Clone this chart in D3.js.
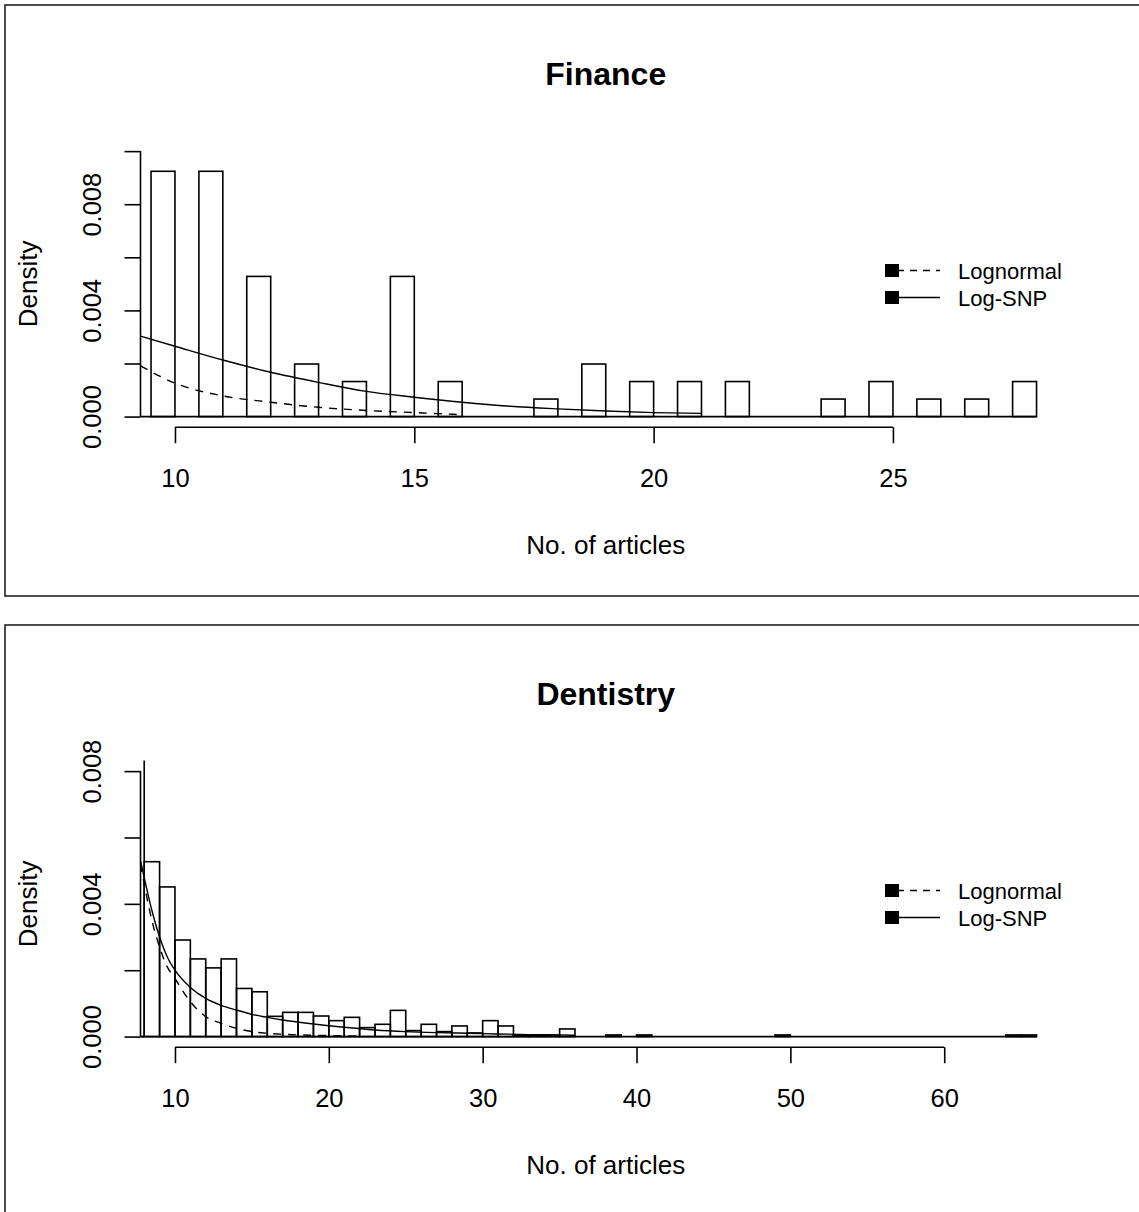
<!DOCTYPE html>
<html lang="en">
<head>
    <meta charset="UTF-8">
    <title>Finance / Dentistry densities</title>
    <script src="https://d3js.org/d3.v7.min.js"></script>
    <style>
        body {
            margin: 0;
            background: #fff;
            font-family: "Liberation Sans", Arial, sans-serif;
        }
        svg {
            display: block;
        }
        .axis text {
            font-family: "Liberation Sans", Arial, sans-serif;
            fill: #000;
        }
    </style>
</head>
<body>
<div id="container"></div>
<script>

    // ---- data ----

    // Finance: bars sit on bins (k-0.5, k]
    const financeArticles = [10, 11, 12, 13, 14, 15, 16, 17, 18, 19, 20, 21, 22, 23, 24, 25, 26, 27, 28];
    const financeDensity  = [0.00924, 0.00924, 0.00528, 0.00198, 0.00132, 0.00528, 0.00132, 0, 0.00066, 0.00198,
                             0.00132, 0.00132, 0.00132, 0, 0.00066, 0.00132, 0.00066, 0.00066, 0.00132];
    const financeSnpX  = [9.28, 10, 11, 12, 13, 14, 15, 16, 17, 18, 19, 20, 21];
    const financeSnpY  = [0.00303, 0.00265, 0.00213, 0.00167, 0.00129, 0.00095, 0.00073, 0.00054, 0.00039, 0.00029, 0.00021, 0.00015, 0.00012];
    const financeLogX  = [9.28, 10, 11, 12, 13, 14, 15, 16];
    const financeLogY  = [0.00191, 0.00126, 0.00078, 0.00054, 0.00035, 0.00023, 0.00015, 0.00007];
    const financeXLim  = [10, 28];
    const financeXTicks = [10, 15, 20, 25];
    const financeYMax  = 0.010;
    const financeYTicks = [0, 0.002, 0.004, 0.006, 0.008, 0.010];

    // Dentistry: bars sit on bins [k, k+1]
    const dentFrom    = [7, 8, 9, 10, 11, 12, 13, 14, 15, 16, 17, 18, 19, 20, 21, 22, 23, 24, 25, 26, 27, 28, 29, 30,
                         31, 32, 33, 34, 35, 38, 40, 49, 64, 65];
    const dentDensity = [0.0120, 0.00527, 0.00451, 0.00291, 0.00234, 0.00207, 0.00234, 0.00145, 0.00135, 0.00061,
                         0.00073, 0.00073, 0.00062, 0.00048, 0.00058, 0.00027, 0.00037, 0.00079, 0.00018, 0.00037,
                         0.00015, 0.00032, 0.00011, 0.00048, 0.00032, 0.00004, 0.00004, 0.00004, 0.00023,
                         0.00005, 0.00005, 0.00005, 0.00005, 0.00005];
    const dentSnpX = [7.76, 8, 8.5, 9, 9.5, 10, 11, 12, 13, 14, 15, 16, 17, 19, 21, 23, 25, 27, 29, 31, 33, 35, 36];
    const dentSnpY = [0.0053, 0.0048, 0.0038, 0.0030, 0.0024, 0.0020, 0.00148, 0.00115, 0.00094, 0.0008, 0.00067,
                      0.00058, 0.0005, 0.00038, 0.00028, 0.0002, 0.00015, 0.00012, 0.0001, 0.00008, 0.00006, 0.00005, 0.00004];
    const dentLogX = [7.76, 8, 8.5, 9, 9.5, 10, 11, 12, 13, 14, 15, 16, 17, 18, 19, 20, 22];
    const dentLogY = [0.0052, 0.0046, 0.0035, 0.0027, 0.0021, 0.00175, 0.00105, 0.0006, 0.0004, 0.00025, 0.00015,
                      0.0001, 0.00007, 0.00005, 0.00004, 0.00003, 0.00002];
    const dentXLim   = [10, 66];
    const dentXTicks = [10, 20, 30, 40, 50, 60];
    const dentYMax   = 0.008;
    const dentYTicks = [0, 0.002, 0.004, 0.006, 0.008];

    const yLabelled = [0, 0.004, 0.008];
    const legendLabels = ['Lognormal', 'Log-SNP'];

    // ---- layout ----
    const W = 1139, H = 1212;
    const svg = d3.select('#container').append('svg')
        .attr('width', W).attr('height', H);

    const panels = [
        {
            id: 'fin', title: 'Finance', off: 0,
            bars: financeArticles.map((k, i) => ({x0: k - 0.5, x1: k, d: financeDensity[i]})),
            base: [9, 28],
            snp: financeSnpX.map((x, i) => [x, financeSnpY[i]]),
            logn: financeLogX.map((x, i) => [x, financeLogY[i]]),
            xlim: financeXLim, xticks: financeXTicks, ymax: financeYMax, yticks: financeYTicks
        },
        {
            id: 'den', title: 'Dentistry', off: 620,
            bars: dentFrom.map((k, i) => ({x0: k, x1: k + 1, d: dentDensity[i]})),
            base: [7, 66],
            snp: dentSnpX.map((x, i) => [x, dentSnpY[i]]),
            logn: dentLogX.map((x, i) => [x, dentLogY[i]]),
            xlim: dentXLim, xticks: dentXTicks, ymax: dentYMax, yticks: dentYTicks
        }
    ];

    const plotL = 140.5, plotR = 1071, plotT = 140.5, plotB = 427.2;

    panels.forEach(function(p) {
        const g = svg.append('g').attr('transform', `translate(0,${p.off})`);

        // frame
        g.append('rect')
            .attr('x', 5).attr('y', 5).attr('width', 1150).attr('height', 591)
            .attr('fill', 'none').attr('stroke', '#222').attr('stroke-width', 1.6);

        const span = p.xlim[1] - p.xlim[0];
        const x = d3.scaleLinear()
            .domain([p.xlim[0] - 0.04 * span, p.xlim[1] + 0.04 * span])
            .range([plotL, plotR]);
        const y = d3.scaleLinear()
            .domain([-0.04 * p.ymax, 1.04 * p.ymax])
            .range([plotB, plotT]);

        g.append('clipPath').attr('id', 'clip-' + p.id)
            .append('rect')
            .attr('x', plotL).attr('y', plotT)
            .attr('width', plotR - plotL).attr('height', plotB - plotT);

        const plot = g.append('g').attr('clip-path', `url(#clip-${p.id})`);

        // histogram
        plot.append('line')
            .attr('x1', x(p.base[0])).attr('x2', x(p.base[1]))
            .attr('y1', y(0)).attr('y2', y(0))
            .attr('stroke', '#000').attr('stroke-width', 1.6);

        plot.selectAll('rect.bar')
            .data(p.bars)
            .enter()
            .append('rect')
                .attr('class', 'bar')
                .attr('x', d => x(d.x0))
                .attr('width', d => x(d.x1) - x(d.x0))
                .attr('y', d => y(d.d))
                .attr('height', d => y(0) - y(d.d))
                .attr('fill', 'none')
                .attr('stroke', '#000')
                .attr('stroke-width', 1.6);

        // fitted curves
        const line = d3.line()
            .x(d => x(d[0]))
            .y(d => y(d[1]))
            .curve(d3.curveMonotoneX);

        plot.append('path')
            .attr('d', line(p.logn))
            .attr('fill', 'none').attr('stroke', '#000')
            .attr('stroke-width', 1.4).attr('stroke-dasharray', '8,7');

        plot.append('path')
            .attr('d', line(p.snp))
            .attr('fill', 'none').attr('stroke', '#000')
            .attr('stroke-width', 1.4);

        // x axis
        const xAxis = g.append('g')
            .attr('class', 'axis')
            .attr('transform', `translate(0,${plotB})`)
            .call(d3.axisBottom(x).tickValues(p.xticks).tickSize(16).tickPadding(26).tickSizeOuter(0));
        xAxis.select('.domain').remove();
        xAxis.append('line')
            .attr('x1', x(p.xticks[0])).attr('x2', x(p.xticks[p.xticks.length - 1]))
            .attr('stroke', '#000').attr('stroke-width', 1.6);
        xAxis.selectAll('.tick line').attr('stroke', '#000').attr('stroke-width', 1.6);
        xAxis.selectAll('text').attr('font-size', 25.5);

        // y axis
        const yAxis = g.append('g')
            .attr('class', 'axis')
            .attr('transform', `translate(${plotL},0)`)
            .call(d3.axisLeft(y).tickValues(p.yticks).tickSize(16).tickSizeOuter(0)
                .tickFormat(d => yLabelled.some(v => Math.abs(v - d) < 1e-9) ? d3.format('.3f')(d) : ''));
        yAxis.select('.domain').remove();
        yAxis.append('line')
            .attr('y1', y(0)).attr('y2', y(p.yticks[p.yticks.length - 1]))
            .attr('stroke', '#000').attr('stroke-width', 1.6);
        yAxis.selectAll('.tick line').attr('stroke', '#000').attr('stroke-width', 1.6);
        yAxis.selectAll('text')
            .attr('x', 0)
            .attr('dy', '0.35em')
            .attr('text-anchor', 'middle')
            .attr('transform', `translate(${92 - plotL},0) rotate(-90)`)
            .attr('font-size', 25.5);

        // title and axis labels
        g.append('text')
            .attr('x', (plotL + plotR) / 2).attr('y', 85)
            .attr('text-anchor', 'middle')
            .attr('font-size', 32).attr('font-weight', 'bold')
            .text(p.title);

        g.append('text')
            .attr('x', (plotL + plotR) / 2).attr('y', 554)
            .attr('text-anchor', 'middle')
            .attr('font-size', 26)
            .text('No. of articles');

        g.append('text')
            .attr('transform', `translate(37,${(plotT + plotB) / 2}) rotate(-90)`)
            .attr('text-anchor', 'middle')
            .attr('font-size', 26)
            .text('Density');

        // legend
        const leg = g.append('g').selectAll('g')
            .data(legendLabels)
            .enter()
            .append('g')
                .attr('transform', (d, i) => `translate(885,${270.5 + i * 27})`);

        leg.append('line')
            .attr('x1', 12).attr('x2', 55)
            .attr('stroke', '#000').attr('stroke-width', 1.4)
            .attr('stroke-dasharray', (d, i) => i === 0 ? '7,6' : null);

        leg.append('rect')
            .attr('x', 0).attr('y', -6.5).attr('width', 14).attr('height', 13)
            .attr('fill', '#000');

        leg.append('text')
            .attr('x', 73).attr('y', 8)
            .attr('font-size', 22)
            .text(d => d);
    });

</script>
</body>
</html>
